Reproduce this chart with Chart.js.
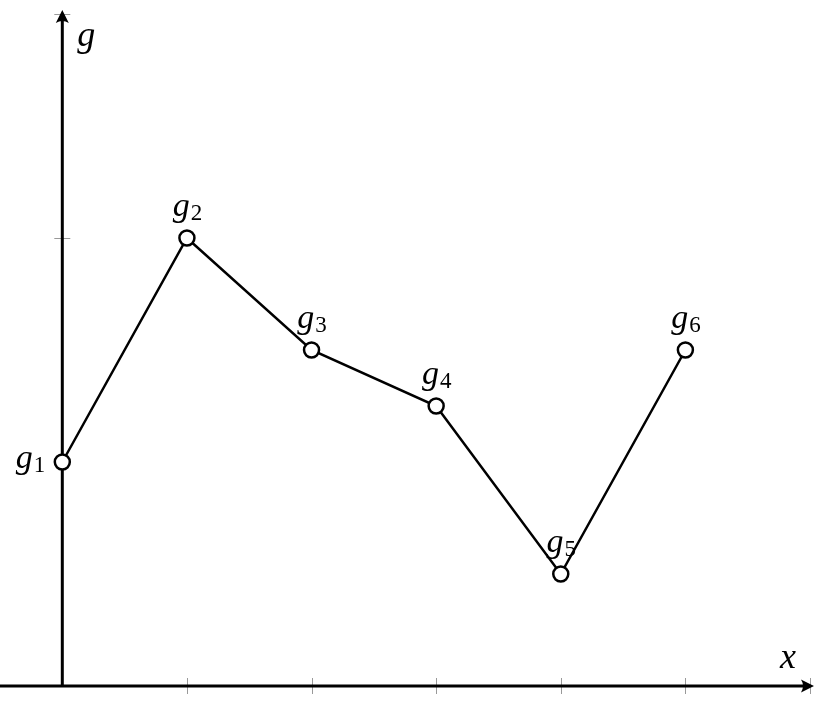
<!DOCTYPE html>
<html>
<head>
<meta charset="utf-8">
<script src="https://cdn.jsdelivr.net/npm/chart.js@4"></script>
<style>
  body { margin: 0; background: #fff; }
  #mycanvas { display: block; }
</style>
</head>
<body>
<canvas id="mycanvas" width="824" height="724"></canvas>
<script>
// data
var xVals = [0, 1, 2, 3, 4, 5];
var gVals = [2, 4, 3, 2.5, 1, 3];
var pointNames = ['1', '2', '3', '4', '5', '6'];
var xTicks = [1, 2, 3, 4, 5, 6];
var yTicks = [2, 4, 6];
var xLabel = 'x';
var yLabel = 'g';

var points = [];
for (var i = 0; i < xVals.length; i++) {
    points.push({ x: xVals[i], y: gVals[i] });
}

function arrowHead(ctx, x, y, dir) {
    ctx.save();
    ctx.translate(x, y);
    ctx.rotate(dir);
    ctx.beginPath();
    ctx.moveTo(4, 0);
    ctx.lineTo(-9, -6.5);
    ctx.quadraticCurveTo(-5, 0, -9, 6.5);
    ctx.closePath();
    ctx.fill();
    ctx.restore();
}

var axesPlugin = {
    id: 'axes',
    beforeDatasetsDraw: function(chart) {
        var ctx = chart.ctx;
        var xs = chart.scales.x, ys = chart.scales.y;
        var x0 = xs.getPixelForValue(0), y0 = ys.getPixelForValue(0);
        var left = xs.getPixelForValue(xs.min), right = xs.getPixelForValue(xs.max);
        var top = ys.getPixelForValue(ys.max);
        ctx.save();
        // ticks
        ctx.strokeStyle = '#999';
        ctx.lineWidth = 1;
        xTicks.forEach(function(t) {
            var px = Math.round(xs.getPixelForValue(t)) + 0.5;
            ctx.beginPath();
            ctx.moveTo(px, y0 - 8);
            ctx.lineTo(px, y0 + 8);
            ctx.stroke();
        });
        yTicks.forEach(function(t) {
            var py = Math.round(ys.getPixelForValue(t)) + 0.5;
            ctx.beginPath();
            ctx.moveTo(x0 - 8, py);
            ctx.lineTo(x0 + 8, py);
            ctx.stroke();
        });
        // axis lines
        ctx.strokeStyle = '#000';
        ctx.fillStyle = '#000';
        ctx.lineWidth = 3;
        ctx.beginPath();
        ctx.moveTo(left, y0);
        ctx.lineTo(right - 2, y0);
        ctx.stroke();
        ctx.beginPath();
        ctx.moveTo(x0, y0);
        ctx.lineTo(x0, top + 2);
        ctx.stroke();
        arrowHead(ctx, right, y0, 0);
        arrowHead(ctx, x0, top, -Math.PI / 2);
        // axis names
        ctx.font = 'italic 36px "Liberation Serif"';
        ctx.textBaseline = 'alphabetic';
        ctx.textAlign = 'left';
        ctx.fillText(yLabel, x0 + 15, top + 32);
        ctx.textAlign = 'right';
        ctx.fillText(xLabel, right - 14, y0 - 18);
        ctx.restore();
    }
};

function drawName(ctx, name, sub, x, y, align) {
    ctx.font = 'italic 34px "Liberation Serif"';
    var w1 = ctx.measureText(name).width;
    ctx.font = '23px "Liberation Serif"';
    var w2 = ctx.measureText(sub).width;
    var startX;
    if (align == 'right') startX = x - w1 - w2;
    else startX = x - (w1 + w2) / 2;
    ctx.textAlign = 'left';
    ctx.textBaseline = 'alphabetic';
    ctx.font = 'italic 34px "Liberation Serif"';
    ctx.fillText(name, startX, y);
    ctx.font = '23px "Liberation Serif"';
    ctx.fillText(sub, startX + w1 + 1, y + 4);
}

var labelPlugin = {
    id: 'pointNames',
    afterDatasetsDraw: function(chart) {
        var ctx = chart.ctx;
        var meta = chart.getDatasetMeta(0);
        ctx.save();
        ctx.fillStyle = '#000';
        for (var i = 0; i < meta.data.length; i++) {
            var el = meta.data[i];
            if (i == 0) {
                drawName(ctx, 'g', pointNames[i], el.x - 18, el.y + 6, 'right');
            } else {
                drawName(ctx, 'g', pointNames[i], el.x, el.y - 22, 'center');
            }
        }
        ctx.restore();
    }
};

var ctx = document.getElementById('mycanvas').getContext('2d');

var lineChart = new Chart(ctx, {
    type: 'line',
    data: {
        datasets: [{
            label: 'g',
            data: points,
            borderColor: '#000',
            borderWidth: 2.5,
            backgroundColor: '#fff',
            pointRadius: 7.5,
            pointBorderWidth: 2.5,
            pointBackgroundColor: '#fff',
            pointBorderColor: '#000',
            tension: 0,
            clip: false
        }]
    },
    options: {
        responsive: false,
        animation: false,
        events: [],
        layout: { autoPadding: false, padding: { left: 0, right: 14, top: 14, bottom: 38 } },
        plugins: {
            legend: { display: false },
            tooltip: { enabled: false }
        },
        scales: {
            x: { type: 'linear', min: -0.5, max: 6, display: false },
            y: { type: 'linear', min: 0, max: 6, display: false }
        }
    },
    plugins: [axesPlugin, labelPlugin]
});
</script>
</body>
</html>
